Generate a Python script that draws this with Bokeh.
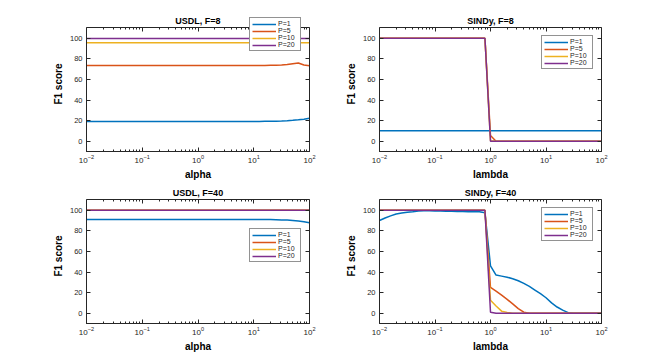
from bokeh.plotting import figure
from bokeh.layouts import column, row
from bokeh.models import (LogAxis, LinearAxis, Legend, LegendItem, LogTicker, FixedTicker,
                          Label, Span)
from bokeh.embed import file_html
from bokeh.resources import INLINE

# shared grid of alpha / lambda values
x_vals = [0.01, 0.01259, 0.01585, 0.01995, 0.02512, 0.03162, 0.03981, 0.05012, 0.0631, 0.07943,
          0.1, 0.1259, 0.1585, 0.1995, 0.2512, 0.3162, 0.3981, 0.5012, 0.631, 0.7943,
          1.0, 1.259, 1.585, 1.995, 2.512, 3.162, 3.981, 5.012, 6.31, 7.943,
          10.0, 12.59, 15.85, 19.95, 25.12, 31.62, 39.81, 50.12, 63.1, 79.43, 100.0]

series_labels = ["P=1", "P=5", "P=10", "P=20"]
y_ticks = [0, 20, 40, 60, 80, 100]

# USDL, F=8
usdl8_p1 = [19.2, 19.2, 19.2, 19.2, 19.2, 19.2, 19.2, 19.2, 19.2, 19.2,
            19.2, 19.2, 19.2, 19.2, 19.2, 19.2, 19.2, 19.2, 19.2, 19.2,
            19.2, 19.2, 19.2, 19.2, 19.2, 19.2, 19.2, 19.2, 19.2, 19.2,
            19.2, 19.2, 19.3, 19.3, 19.4, 19.6, 19.9, 20.3, 20.8, 21.4, 22.2]
usdl8_p5 = [73.5, 73.5, 73.5, 73.5, 73.5, 73.5, 73.5, 73.5, 73.5, 73.5,
            73.5, 73.5, 73.5, 73.5, 73.5, 73.5, 73.5, 73.5, 73.5, 73.5,
            73.5, 73.5, 73.5, 73.5, 73.5, 73.5, 73.5, 73.5, 73.5, 73.5,
            73.5, 73.5, 73.6, 73.7, 73.8, 74.0, 74.5, 75.3, 76.0, 74.0, 73.2]
usdl8_p10 = [95.5] * 41
usdl8_p20 = [99.8] * 41

# SINDy, F=8
sindy8_p1 = [10.2] * 41
sindy8_p5 = [100] * 20 + [5.5] + [0] * 20
sindy8_p10 = [100] * 20 + [0.5] + [0] * 20
sindy8_p20 = [100] * 20 + [0] + [0] * 20

# USDL, F=40
usdl40_p1 = [91.0, 91.0, 91.0, 91.0, 91.0, 91.0, 91.0, 91.0, 91.0, 91.0,
             91.0, 91.0, 91.0, 91.0, 91.0, 91.0, 91.0, 91.0, 91.0, 91.0,
             91.0, 91.0, 91.0, 91.0, 91.0, 91.0, 91.0, 91.0, 91.0, 91.0,
             91.0, 91.0, 91.0, 90.9, 90.8, 90.6, 90.4, 90.0, 89.5, 88.8, 87.8]
usdl40_p5 = [100] * 41
usdl40_p10 = [100] * 41
usdl40_p20 = [100] * 41

# SINDy, F=40
sindy40_p1 = [90.0, 92.5, 94.5, 96.3, 97.3, 98.0, 98.5, 99.3, 99.5, 99.5,
              99.3, 99.2, 99.0, 99.0, 98.8, 98.8, 98.6, 98.6, 98.5, 97.5,
              46.0, 37.0, 36.0, 35.0, 33.5, 31.5, 29.0, 26.0, 22.5, 19.0,
              15.0, 10.0, 6.0, 3.0, 0.5, 0, 0, 0, 0, 0, 0]
sindy40_p5 = [100] * 20 + [25.0, 21.5, 17.5, 13.5, 9.0, 4.5, 1.0] + [0] * 14
sindy40_p10 = [100] * 20 + [12.5, 7.0, 2.0, 0.8] + [0] * 17
sindy40_p20 = [100] * 20 + [1.0] + [0] * 20

colors = ["#0072BD", "#D95319", "#EDB120", "#7E2F8E"]
FONT = "Liberation Sans"
AX = "#262626"

Y_LO, Y_HI, Y_TOP = -10, 110, 121.1   # axis box is -10..110; frame extends a bit above for title/legend


def style_axis(ax):
    ax.axis_line_color = AX
    ax.axis_line_width = 1
    ax.major_tick_line_color = AX
    ax.minor_tick_line_color = AX
    ax.major_tick_in = 4
    ax.major_tick_out = 0
    ax.minor_tick_in = 2
    ax.minor_tick_out = 0
    ax.major_label_text_font = FONT
    ax.major_label_text_font_size = "7.5px"
    ax.major_label_text_color = AX
    ax.axis_label_text_font = FONT
    ax.axis_label_text_font_size = "10px"
    ax.axis_label_text_font_style = "bold"
    ax.axis_label_text_color = "black"
    ax.axis_label_standoff = 3
    ax.major_label_standoff = 4


def make(title, xlabel, ys, legend_loc, w, h, bl, br, bt, bb):
    p = figure(width=w, height=h, x_axis_type="log", x_range=(0.01, 100), y_range=(Y_LO, Y_TOP),
               output_backend="svg", toolbar_location=None, x_axis_location=None,
               y_axis_location=None,
               min_border_left=bl, min_border_right=br, min_border_top=bt, min_border_bottom=bb)
    p.outline_line_color = None
    p.xgrid.visible = False
    p.ygrid.visible = False

    bottom = LogAxis(ticker=LogTicker(num_minor_ticks=10), axis_label=xlabel)
    left = LinearAxis(ticker=FixedTicker(ticks=y_ticks), axis_label="F1 score", bounds=(Y_LO, Y_HI))
    top = LogAxis(ticker=LogTicker(num_minor_ticks=10), fixed_location=Y_HI)
    right = LinearAxis(ticker=FixedTicker(ticks=y_ticks), bounds=(Y_LO, Y_HI))
    for ax in (bottom, left, top, right):
        style_axis(ax)
    bottom.major_label_text_font_size = "8px"
    bottom.major_label_standoff = 3
    for ax in (top, right):
        ax.major_label_text_font_size = "2px"
        ax.major_label_text_color = None
        ax.major_label_standoff = 0
    p.add_layout(bottom, "below")
    p.add_layout(left, "left")
    p.add_layout(top, "above")
    p.add_layout(right, "right")

    p.add_layout(Label(x=1, y=Y_HI + 6.8, text=title, text_align="center", text_baseline="middle",
                       text_font=FONT, text_font_size="9px", text_font_style="bold",
                       text_color="black"))

    items = []
    for yv, c, lab in zip(ys, colors, series_labels):
        r = p.line(x_vals, yv, line_color=c, line_width=1.5)
        items.append(LegendItem(label=lab, renderers=[r]))
    leg = Legend(items=items, location=legend_loc)
    leg.label_text_font = FONT
    leg.label_text_font_size = "7px"
    leg.label_text_color = AX
    leg.label_text_line_height = 0.8
    leg.label_height = 6
    leg.glyph_height = 6
    leg.glyph_width = 24
    leg.label_standoff = 2
    leg.spacing = 0
    leg.padding = 2
    leg.margin = 0
    leg.border_line_color = AX
    leg.border_line_width = 1
    leg.background_fill_color = "white"
    leg.background_fill_alpha = 1
    p.add_layout(leg, "center")
    return p


p1 = make("USDL, F=8", "alpha", [usdl8_p1, usdl8_p5, usdl8_p10, usdl8_p20], (163, 100),
          340, 182, 86, 31, 16, 31)
p2 = make("SINDy, F=8", "lambda", [sindy8_p1, sindy8_p5, sindy8_p10, sindy8_p20], (162, 82),
          324, 182, 39, 63, 16, 31)
p3 = make("USDL, F=40", "alpha", [usdl40_p1, usdl40_p5, usdl40_p10, usdl40_p20], (163, 61),
          340, 182, 86, 31, 6, 41)
p4 = make("SINDy, F=40", "lambda", [sindy40_p1, sindy40_p5, sindy40_p10, sindy40_p20], (162, 82),
          324, 182, 39, 63, 6, 41)

layout = column(row(p1, p2), row(p3, p4))
open("out.html", "w").write(file_html(layout, INLINE))
